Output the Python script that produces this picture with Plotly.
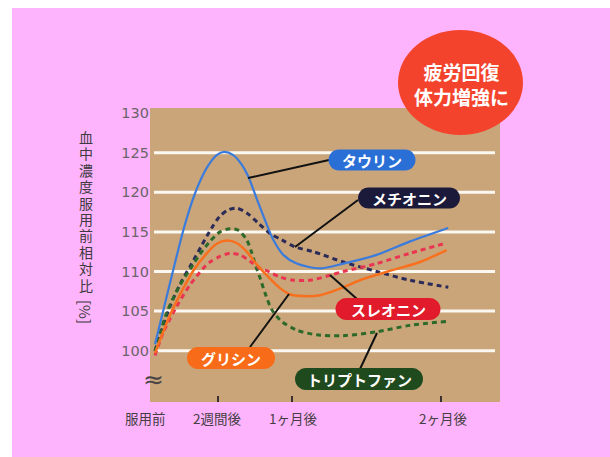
import plotly.graph_objects as go

# ---------------- data (days after start, relative blood level %) ----------------
taurine_x = [0, 2.2, 4.20, 5.94, 7.70, 9.44, 11.18, 12.94, 14.47, 16.42, 18.19, 19.57,
             21.33, 23.07, 24.81, 26.91, 29.72, 34.6, 39.5, 46.5, 53.5, 61.5]
taurine_y = [100.8, 106.2, 111.1, 115.2, 118.7, 121.4, 123.4, 124.7, 125.1, 124.7, 123.5, 122.0,
             119.2, 116.5, 114.0, 112.1, 111.0, 110.4, 111.0, 112.1, 113.8, 115.5]

methionine_x = [0, 3.15, 5.60, 7.70, 9.80, 11.89, 13.64, 15.38, 17.14, 19.24, 21.67, 24.12,
                26.58, 29.37, 33.21, 39.50, 46.50, 53.49, 61.53]
methionine_y = [100.0, 105.6, 108.8, 111.0, 113.3, 115.5, 117.0, 117.8, 118.0, 117.4, 116.1, 114.8,
                114.0, 113.1, 112.5, 111.2, 110.0, 108.9, 108.0]

tryptophan_x = [0, 2.45, 5.24, 8.03, 9.44, 11.54, 13.64, 15.73, 17.47, 19.24, 20.28, 21.19,
                22.03, 23.07, 24.48, 26.58, 29.72, 33.92, 39.44, 46.57, 53.49, 61.25]
tryptophan_y = [99.9, 104.8, 108.3, 110.9, 112.2, 113.8, 115.0, 115.4, 115.2, 114.0, 112.4, 110.6,
                109.2, 107.3, 105.2, 103.7, 102.6, 102.0, 101.9, 102.4, 103.2, 103.7]

glycine_x = [0, 3.15, 5.60, 8.03, 11.18, 12.94, 15.04, 17.14, 19.24, 21.33, 24.12, 26.22,
             28.32, 31.11, 34.61, 39.50, 43.00, 49.99, 55.59, 61.19]
glycine_y = [99.7, 104.5, 107.5, 110.1, 112.5, 113.5, 113.9, 113.6, 112.5, 110.9, 109.1, 107.9,
             107.1, 106.9, 107.0, 108.0, 108.9, 110.2, 111.2, 112.7]

threonine_x = [0, 1.74, 4.55, 7.34, 10.13, 11.54, 13.64, 15.73, 17.83, 19.93, 22.03, 23.43,
               26.22, 29.01, 32.52, 36.02, 39.50, 46.51, 53.49, 61.19]
threonine_y = [99.4, 102.3, 105.6, 108.3, 110.4, 111.2, 111.9, 112.3, 112.1, 111.3, 110.4, 110.1,
               109.3, 108.9, 108.9, 109.4, 110.0, 111.0, 112.3, 113.6]

y_tick_vals = [100, 105, 110, 115, 120, 125, 130]
grid_vals = [100, 105, 110, 115, 120, 125]
x_label_px = [145.5, 216.5, 293.0, 442.5]
x_labels = ["服用前", "2週間後", "1ヶ月後", "2ヶ月後"]
x_tick_marks = [13.2, 28.7, 60.0]

y_title_chars = ["血", "中", "濃", "度", "服", "用", "前", "相", "対", "比"]
badge_lines = ["疲労回復", "体力増強に"]

# ---------------- layout geometry helpers (pixels -> paper) ----------------
W, H = 610, 457
L, R, T, B = 150, 500, 108, 402


def px(x):
    return (x - L) / (R - L)


def py(y):
    return (B - y) / (B - T)


JP = "Noto Sans CJK JP"

fig = go.Figure()

series = [
    ("メチオニン", methionine_x, methionine_y, "#2b2a58", "5px,4px", 3),
    ("トリプトファン", tryptophan_x, tryptophan_y, "#2d6a2a", "5px,4px", 3),
    ("スレオニン", threonine_x, threonine_y, "#ea3552", "5px,4px", 3),
    ("グリシン", glycine_x, glycine_y, "#f8701e", "solid", 2.5),
    ("タウリン", taurine_x, taurine_y, "#3b7bdc", "solid", 2.2),
]
for name, xs, ys, col, dash, w in series:
    fig.add_trace(go.Scatter(
        x=xs, y=ys, mode="lines", name=name,
        line=dict(color=col, width=w, dash=dash, shape="spline", smoothing=0.8),
        hoverinfo="skip", showlegend=False,
    ))

shapes = []
# white margin strips
shapes.append(dict(type="rect", xref="paper", yref="paper", x0=px(0), x1=px(12), y0=py(457), y1=py(0),
                   fillcolor="white", line=dict(width=0), layer="below"))
shapes.append(dict(type="rect", xref="paper", yref="paper", x0=px(0), x1=px(610), y0=py(8), y1=py(0),
                   fillcolor="white", line=dict(width=0), layer="below"))
# gridlines
for g in grid_vals:
    shapes.append(dict(type="line", xref="paper", yref="y", x0=px(154), x1=px(495), y0=g, y1=g,
                       line=dict(color="#fbf8f2", width=3), layer="between"))

# connector lines
connectors = [
    ((329, 160), (248, 178)),
    ((358, 200), (295, 247)),
    ((357, 299), (330, 275)),
    ((250, 347), (289, 294)),
    ((360, 369), (377, 333)),
]
for (x0, y0), (x1, y1) in connectors:
    shapes.append(dict(type="line", xref="paper", yref="paper", x0=px(x0), y0=py(y0), x1=px(x1), y1=py(y1),
                       line=dict(color="#111111", width=2), layer="above"))

# label pills
boxes = [
    ("タウリン", "#2a6fd6", 372, 160, 87, 21),
    ("メチオニン", "#1b1a3a", 409, 198, 102, 21),
    ("スレオニン", "#e11b2c", 388, 309, 105, 22),
    ("グリシン", "#f86b18", 231, 358, 88, 22),
    ("トリプトファン", "#1f4a1d", 359, 379, 128, 22),
]
c = 0.5523


def pill(w, h):
    w2, h2 = w / 2, h / 2
    r = h2
    p = []
    p.append(f"M {-w2 + r},{-h2} L {w2 - r},{-h2}")
    p.append(f"C {w2 - r + c * r},{-h2} {w2},{-c * r} {w2},0")
    p.append(f"C {w2},{c * r} {w2 - r + c * r},{h2} {w2 - r},{h2}")
    p.append(f"L {-w2 + r},{h2}")
    p.append(f"C {-w2 + r - c * r},{h2} {-w2},{c * r} {-w2},0")
    p.append(f"C {-w2},{-c * r} {-w2 + r - c * r},{-h2} {-w2 + r},{-h2} Z")
    return " ".join(p)


annotations = []
for text, col, cx, cy, w, h in boxes:
    shapes.append(dict(type="path", xref="paper", yref="paper", xsizemode="pixel", ysizemode="pixel",
                       xanchor=px(cx), yanchor=py(cy), path=pill(w, h), fillcolor=col,
                       line=dict(width=0), layer="above"))
    annotations.append(dict(x=px(cx), y=py(cy), xref="paper", yref="paper", text=text, showarrow=False,
                            font=dict(family=JP, size=15, color="white", weight="bold"),
                            xanchor="center", yanchor="middle"))

# badge
shapes.append(dict(type="circle", xref="paper", yref="paper", x0=px(398), x1=px(523), y0=py(135), y1=py(30),
                   fillcolor="#f4432c", line=dict(width=0), layer="above"))
annotations.append(dict(x=px(461), y=py(84), xref="paper", yref="paper", text="<br>".join(badge_lines),
                        showarrow=False, font=dict(family=JP, size=19, color="white", weight="bold"),
                        xanchor="center", yanchor="middle"))

# x labels
for xp, t in zip(x_label_px, x_labels):
    annotations.append(dict(x=px(xp), y=py(417.5), xref="paper", yref="paper", text=t, showarrow=False,
                            font=dict(family=JP, size=13.5, color="#443e42"),
                            xanchor="center", yanchor="middle"))

# y title (vertical, one character per row)
for i, ch in enumerate(y_title_chars):
    annotations.append(dict(x=px(86), y=py(137 + 16.4 * i), xref="paper", yref="paper", text=ch,
                            showarrow=False, font=dict(family=JP, size=14, color="#3e3a3e"),
                            xanchor="center", yanchor="middle"))
annotations.append(dict(x=px(86), y=py(312), xref="paper", yref="paper", text="[%]", textangle=90,
                        showarrow=False, font=dict(family=JP, size=15, color="#3e3a3e"),
                        xanchor="center", yanchor="middle"))
# break mark
annotations.append(dict(x=px(153), y=py(379), xref="paper", yref="paper", text="≈", showarrow=False,
                        font=dict(family="DejaVu Sans", size=25, color="#4a4448"),
                        xanchor="center", yanchor="middle"))

x0_range = (L - 155) / 4.767
x1_range = (R - 155) / 4.767
ppu = 7.92
y_bottom = 100 - (B - 350.7) / ppu
y_top = 100 + (350.7 - T) / ppu

fig.update_layout(
    width=W, height=H,
    margin=dict(l=L, r=W - R, t=T, b=H - B, pad=0),
    paper_bgcolor="#fdb4fc",
    plot_bgcolor="#c9a579",
    shapes=shapes,
    annotations=annotations,
    xaxis=dict(range=[x0_range, x1_range], showgrid=False, zeroline=False, showline=False,
               tickvals=x_tick_marks, ticks="inside", ticklen=6, tickwidth=2, tickcolor="#3a3030",
               showticklabels=False, fixedrange=True),
    yaxis=dict(range=[y_bottom, y_top], showgrid=False, zeroline=False, showline=False,
               tickvals=y_tick_vals, ticktext=[str(v) for v in y_tick_vals], ticks="",
               tickfont=dict(family="DejaVu Sans", size=14.5, color="#6a6468"),
               fixedrange=True),
    showlegend=False,
)

fig.write_html("out.html")
